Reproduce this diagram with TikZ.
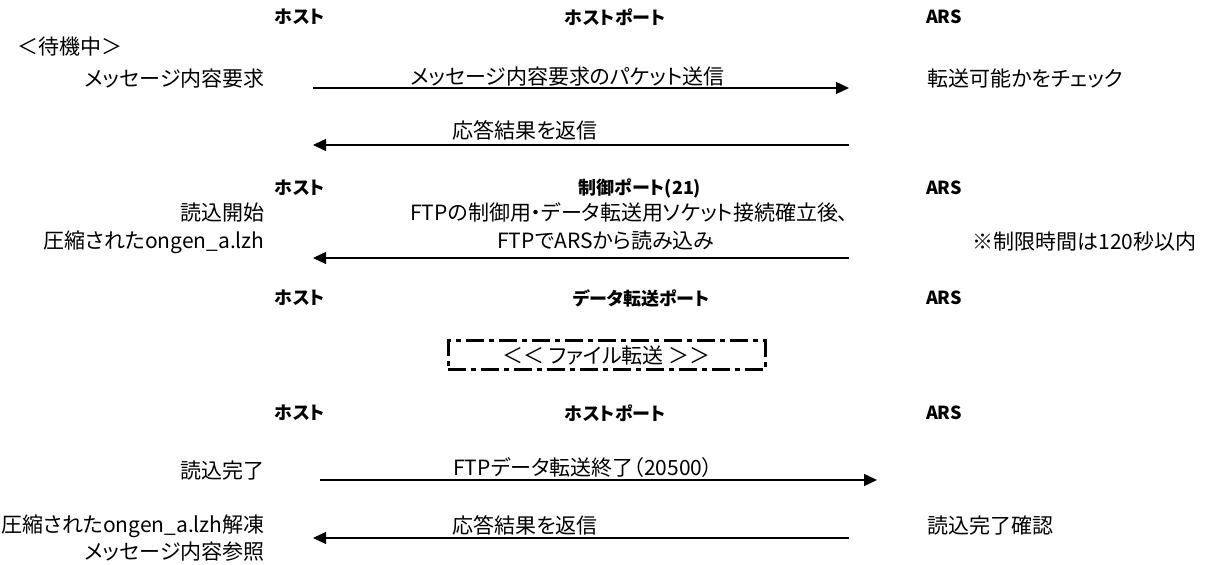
\documentclass[tikz,border=0pt]{standalone}
\usepackage{fontspec}
\setmainfont{Noto Sans CJK JP}[RawFeature=+palt]
\usetikzlibrary{arrows.meta}

\begin{document}
\begin{tikzpicture}[x=0.5pt, y=-0.5pt,
   every node/.style={inner sep=0pt, font=\fontsize{10.5pt}{13pt}\selectfont},
   hdr/.style={font=\fontsize{9pt}{11pt}\selectfont\bfseries},
   lft/.style={anchor=east},
   rgt/.style={anchor=west},
   msg/.style={line width=0.65pt, -{Triangle[length=6.5pt, width=6pt]}},
   xferbox/.style={draw, line width=1.5pt, dash pattern=on 9pt off 2.5pt on 2.5pt off 2.5pt,
                   minimum width=158.5pt, minimum height=14.5pt}]

\useasboundingbox (0,0) rectangle (1221,565);

\node[hdr] (host1) at (300,17) {ホスト};
\node[hdr] (port1) at (615,17) {ホストポート};
\node[hdr] (ars1)  at (944,17) {ARS};
\node[hdr] (host2) at (300,188) {ホスト};
\node[hdr] (port2) at (640,188) {制御ポート(21)};
\node[hdr] (ars2)  at (944,188) {ARS};
\node[hdr] (host3) at (300,298) {ホスト};
\node[hdr] (port3) at (641,298) {データ転送ポート};
\node[hdr] (ars3)  at (944,298) {ARS};
\node[hdr] (host4) at (300,413) {ホスト};
\node[hdr] (port4) at (615,413) {ホストポート};
\node[hdr] (ars4)  at (944,413) {ARS};

\node[rgt] (wait)    at (17,47)  {＜待機中＞};
\node[lft] (req)     at (265,79) {メッセージ内容要求};
\node[rgt] (chk)     at (927,79) {転送可能かをチェック};
\node[lft] (rdstart) at (265,213) {読込開始};
\node[lft] (rdfile)  at (265,242) {圧縮されたongen\_a.lzh};
\node[rgt] (limit)   at (972,242) {※制限時間は120秒以内};
\node[lft] (rddone)  at (265,471) {読込完了};
\node[lft] (unzip)   at (265,526) {圧縮されたongen\_a.lzh解凍};
\node[lft] (refer)   at (265,552) {メッセージ内容参照};
\node[rgt] (confirm) at (927,526) {読込完了確認};

\node[rgt] (lbl1)  at (410,77)  {メッセージ内容要求のパケット送信};
\node[rgt] (lbl2)  at (452,130) {応答結果を返信};
\node[rgt] (lbl3a) at (410,212) {FTPの制御用・データ転送用ソケット接続確立後、};
\node[rgt] (lbl3b) at (497,241) {FTPでARSから読み込み};
\node[rgt] (lbl4)  at (453,468) {FTPデータ転送終了（20500）};
\node[rgt] (lbl5)  at (452,525) {応答結果を返信};

\node[xferbox] (xfer) at (606.5,355.5) {＜＜ ファイル転送 ＞＞};

\coordinate (h1) at (313,88);  \coordinate (a1) at (849,88);
\coordinate (h2) at (313,145); \coordinate (a2) at (849,145);
\coordinate (h3) at (313,258); \coordinate (a3) at (849,258);
\coordinate (h4) at (320,480); \coordinate (a4) at (877,480);
\coordinate (h5) at (313,538); \coordinate (a5) at (849,538);

\draw[msg] (h1) -- (a1);
\draw[msg] (a2) -- (h2);
\draw[msg] (a3) -- (h3);
\draw[msg] (h4) -- (a4);
\draw[msg] (a5) -- (h5);

\end{tikzpicture}
\end{document}
